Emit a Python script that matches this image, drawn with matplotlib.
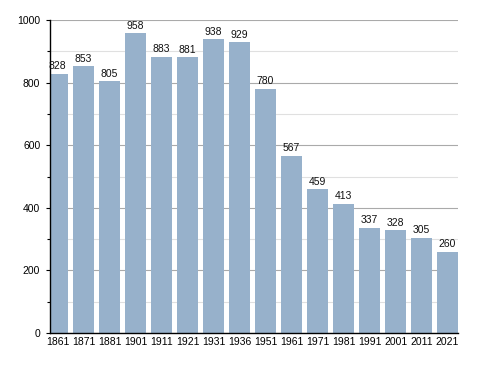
import matplotlib
matplotlib.use("Agg")
import matplotlib.pyplot as plt
from matplotlib.ticker import MultipleLocator

years = ["1861", "1871", "1881", "1901", "1911", "1921", "1931", "1936",
         "1951", "1961", "1971", "1981", "1991", "2001", "2011", "2021"]
population = [828, 853, 805, 958, 883, 881, 938, 929, 780, 567, 459, 413, 337, 328, 305, 260]

plt.rcParams['font.family'] = ['Liberation Sans', 'DejaVu Sans']
fig = plt.figure(figsize=(4.88, 3.73), dpi=100)
ax = fig.add_axes([50/488, 1-333/373, 408/488, 313/373])

x = list(range(len(years)))
ax.bar(x, population, width=0.81, color="#97b1cb", zorder=2)
for xi, v in zip(x, population):
    ax.text(xi, v + 8, str(v), ha="center", va="bottom", fontsize=7.5, color="#111111", zorder=3)

ax.set_xlim(-0.29, 15.40)
ax.set_ylim(0, 1000)
ax.set_xticks(x)
ax.set_xticklabels(years, fontsize=7.5)
ax.yaxis.set_major_locator(MultipleLocator(200))
ax.yaxis.set_minor_locator(MultipleLocator(100))
ax.tick_params(axis="y", which="major", length=3, width=0.8, labelsize=7.5, pad=4)
ax.tick_params(axis="y", which="minor", length=2, width=0.8)
ax.tick_params(axis="x", length=0, pad=3)
ax.grid(axis="y", which="major", color="#aaaaaa", linewidth=0.8, zorder=0)
ax.grid(axis="y", which="minor", color="#e0e0e0", linewidth=0.8, zorder=0)
for s in ["top", "right"]:
    ax.spines[s].set_visible(False)
ax.spines["left"].set_linewidth(1.0)
ax.spines["bottom"].set_linewidth(1.0)
ax.set_axisbelow(True)

fig.savefig("out.png", dpi=100)
